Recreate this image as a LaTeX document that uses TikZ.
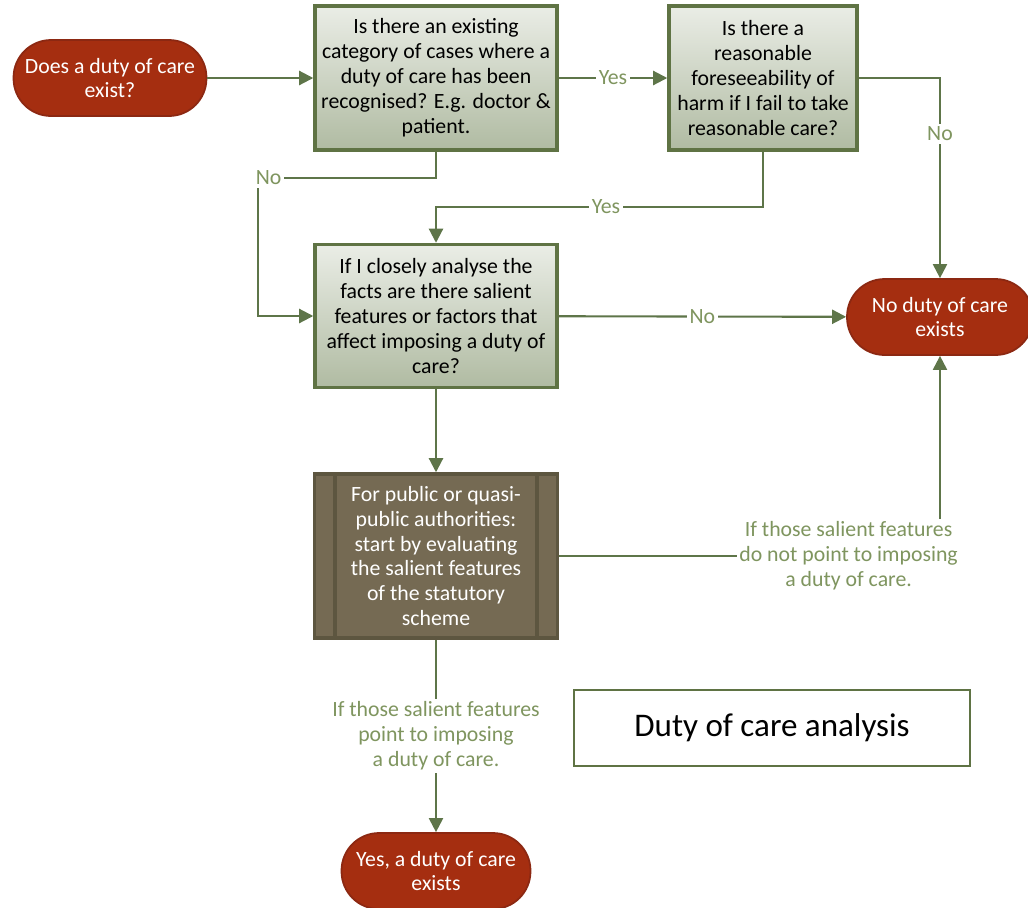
\documentclass[tikz,border=0pt]{standalone}
\usepackage{fontspec}
\setmainfont{Carlito}
\usetikzlibrary{arrows.meta}
\definecolor{termred}{RGB}{165,46,16}
\definecolor{termedge}{RGB}{140,40,18}
\definecolor{boxtop}{RGB}{234,237,230}
\definecolor{boxbot}{RGB}{176,187,162}
\definecolor{boxedge}{RGB}{95,115,68}
\definecolor{pubfill}{RGB}{117,106,83}
\definecolor{pubedge}{RGB}{93,86,64}
\definecolor{flowgreen}{RGB}{94,117,73}
\definecolor{lblgreen}{RGB}{127,149,95}
\begin{document}
\begin{tikzpicture}[x=0.02cm,y=-0.02cm,>={Triangle[length=8pt,width=8pt]}]
\tikzset{term/.style={fill=termred,draw=termedge,line width=1pt,rounded corners=0.75cm,
    minimum height=1.52cm,text=white,align=center,font=\fontsize{12.4}{14.2}\selectfont},
  qbox/.style={draw=boxedge,line width=2pt,top color=boxtop,bottom color=boxbot,
    minimum width=4.84cm,minimum height=2.88cm,align=center,font=\fontsize{12.4}{14.2}\selectfont},
  pbox/.style={draw=pubedge,line width=2pt,fill=pubfill,text=white,
    minimum width=4.86cm,minimum height=3.28cm,align=center,font=\fontsize{12.4}{14.2}\selectfont},
  flow/.style={->,draw=flowgreen,line width=1.2pt},
  lbl/.style={fill=white,text=lblgreen,inner sep=1.5pt,align=center,font=\fontsize{12.4}{14.2}\selectfont}}
\useasboundingbox (0,0) rectangle (1028,907);
% The graphic
\node[term,minimum width=3.86cm] (start) at (110,78) {Does a duty of care\\exist?};
\node[qbox] (exist) at (436,78) {Is there an existing\\category of cases where a\\duty of care has been\\recognised? E.g. doctor \&\\patient.};
\node[qbox,minimum width=3.76cm] (foresee) at (763,78) {Is there a\\reasonable\\foreseeability of\\harm if I fail to take\\reasonable care?};
\node[qbox,minimum height=2.86cm] (salient) at (436,316) {If I closely analyse the\\facts are there salient\\features or factors that\\affect imposing a duty of\\care?};
\node[pbox] (public) at (436,556) {For public or quasi-\\public authorities:\\start by evaluating\\the salient features\\of the statutory\\scheme};
\foreach \side/\dx in {west/0.44cm,east/-0.44cm}
  \draw[pubedge,line width=2pt] ([xshift=\dx]public.north \side) -- ([xshift=\dx]public.south \side);
\node[term,minimum width=3.72cm] (noduty) at (940,317) {No duty of care\\exists};
\node[term,minimum width=3.78cm] (yesduty) at (436,871) {Yes, a duty of care\\exists};
\node[draw=boxedge,line width=1.2pt,minimum width=7.92cm,minimum height=1.52cm,
  font=\fontsize{18.8}{22}\selectfont] (title) at (772,728) {Duty of care analysis};
%%%
\coordinate (noturn) at (258,178);
\coordinate (yesturn) at (436,207);
\draw[flow] (start) -- (exist);
\draw[flow] (exist) -- node[lbl]{Yes} (foresee);
\draw[flow] (foresee.east) -| node[lbl,pos=0.64]{No} (noduty.north);
\draw[flow] (exist.south) |- node[lbl,pos=0.97]{No} (noturn) |- (salient.west);
\draw[flow] (foresee.south) |- node[lbl,pos=0.74]{Yes} (yesturn) -- (salient.north);
\draw[flow] (salient) -- node[lbl]{No} (noduty);
\draw[flow] (salient) -- (public);
\draw[flow] (public.east) -| node[lbl,pos=0.38]{If those salient features\\do not point to imposing\\a duty of care.} (noduty.south);
\draw[flow] (public) -- node[lbl]{If those salient features\\point to imposing\\a duty of care.} (yesduty);
%%%
\end{tikzpicture}
\end{document}
